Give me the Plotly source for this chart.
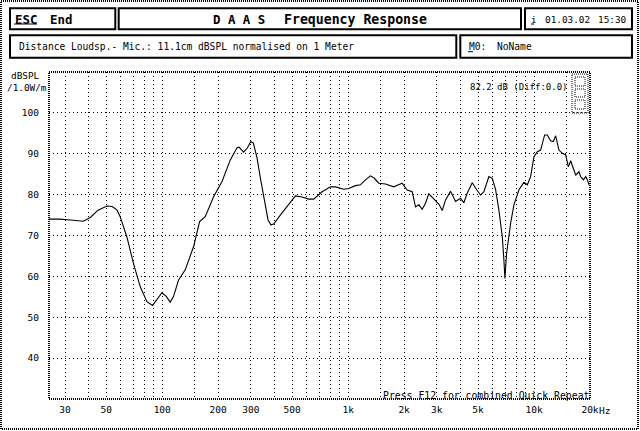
import math
import plotly.graph_objects as go

# ---------------- data ----------------
freq_hz = [24.6, 28.2, 32.0, 37.7, 41.0, 45.2, 50.4, 53.8, 57.2, 59.4,
           64.5, 70.0, 76.1, 82.7, 88.7, 93.6, 99.6, 105.1, 110.4, 115.1,
           122.4, 133.0, 147.5, 158.8, 170.4, 188.9, 209.7, 232.4, 252.6, 258.8,
           274.1, 286.9, 299.6, 309.1, 323.6, 337.1, 351.3, 370.9, 384.0, 397.5,
           431.9, 469.4, 520.3, 565.4, 613.5, 652.9, 724.4, 803.0, 854.5, 947,
           1007, 1095, 1165, 1239, 1319, 1385, 1461, 1588, 1761, 1866,
           1953, 2078, 2212, 2304, 2400, 2503, 2608, 2716, 2891, 3075,
           3208, 3342, 3556, 3783, 4024, 4194, 4374, 4653, 4909, 5157,
           5374, 5716, 5963, 6213, 6471, 6750, 6885, 6971, 7118, 7234,
           7482, 7795, 8294, 8823, 9204, 9587, 9989, 10420, 10850, 11400,
           11790, 12280, 12700, 13070, 13620, 14200, 14800, 15300, 15740, 16280,
           16750, 17450, 17820, 18430, 18960, 19360, 19750]
level_db = [74.0, 74.0, 73.8, 73.5, 74.4, 76.2, 77.2, 77.1, 76.2, 74.6,
            69.7, 63.2, 57.5, 53.8, 52.9, 54.3, 56.0, 55.1, 53.7, 55.1,
            59.1, 61.6, 67.3, 73.4, 74.6, 79.5, 83.2, 88.5, 91.5, 91.6,
            90.4, 91.4, 93.0, 92.6, 89.0, 84.1, 79.7, 73.8, 72.6, 72.8,
            75.0, 77.0, 79.7, 79.4, 78.9, 78.9, 80.7, 81.9, 81.9, 81.3,
            81.5, 82.2, 82.4, 83.6, 84.6, 84.0, 82.8, 82.6, 81.9, 82.4,
            82.8, 81.1, 80.7, 77.0, 77.5, 76.4, 77.9, 80.2, 79.0, 77.7,
            76.1, 78.7, 80.8, 78.3, 79.1, 78.0, 80.4, 82.9, 81.2, 79.9,
            80.7, 84.4, 84.0, 81.2, 76.2, 69.7, 64.0, 59.5, 65.6, 68.1,
            73.0, 77.5, 81.2, 83.0, 82.4, 84.4, 89.3, 90.5, 90.9, 94.6,
            94.6, 93.2, 93.0, 94.4, 90.9, 90.1, 89.7, 86.8, 88.3, 86.4,
            84.8, 85.6, 84.4, 83.6, 84.4, 83.6, 82.4]

x_tick_vals = [30, 50, 100, 200, 300, 500, 1000, 2000, 3000, 5000, 10000, 20000]
x_tick_text = ["30", "50", "100", "200", "300", "500", "1k", "2k", "3k", "5k", "10k", "20k"]
x_minor_grid = [40, 60, 70, 80, 90, 150, 400, 600, 700, 800, 900,
                1500, 4000, 6000, 7000, 8000, 9000, 15000]
y_tick_vals = [40, 50, 60, 70, 80, 90, 100]
x_range_hz = [24.6, 20000]
y_range_db = [30, 110]

# ---------------- layout helpers (pixel -> paper) ----------------
W, H = 640, 431
L, R, T, B = 49, 590, 72, 399


def px(x):
    return (x - L) / (R - L)


def py(y):
    return (B - y) / (B - T)


MONO = "DejaVu Sans Mono"

fig = go.Figure()
fig.add_trace(go.Scatter(x=freq_hz, y=level_db, mode="lines",
                         line=dict(color="black", width=1.1),
                         showlegend=False, hoverinfo="skip"))

fig.update_layout(
    width=W, height=H,
    margin=dict(l=L, r=W - R, t=T, b=H - B, pad=0),
    paper_bgcolor="white", plot_bgcolor="white",
    font=dict(family=MONO, size=10, color="black"),
    xaxis=dict(type="log", range=[math.log10(x_range_hz[0]), math.log10(x_range_hz[1])],
               tickmode="array", tickvals=x_tick_vals, ticktext=x_tick_text,
               showgrid=True, gridcolor="black", griddash="1px,3px", gridwidth=1,
               minor=dict(tickmode="array", tickvals=x_minor_grid, showgrid=True,
                          gridcolor="black", griddash="1px,3px", gridwidth=1, ticks=""),
               ticks="", showline=False, zeroline=False,
               tickfont=dict(family=MONO, size=9.5), ticklabelstandoff=3),
    yaxis=dict(range=y_range_db, tickmode="array", tickvals=y_tick_vals,
               showgrid=True, gridcolor="black", griddash="1px,3px", gridwidth=1,
               ticks="", showline=False, zeroline=False,
               tickfont=dict(family=MONO, size=9.5), ticklabelstandoff=9),
)

shapes = []
dith = dict(color="black", width=2, dash="1px,1px")
# outer frame
shapes.append(dict(type="rect", xref="paper", yref="paper",
                   x0=px(1), x1=px(638), y0=py(1), y1=py(429), line=dith))
# plot frame
shapes.append(dict(type="rect", xref="paper", yref="paper",
                   x0=px(L), x1=px(R), y0=py(T), y1=py(B), line=dith))
# header boxes
boxes = [(10, 8.3, 115.3, 29.3), (118.7, 8.3, 521, 29.3), (525, 8.3, 632, 29.3),
         (10, 35.3, 456.3, 57.7), (460.3, 35.3, 632, 57.7)]
for (x0, y0, x1, y1) in boxes:
    shapes.append(dict(type="rect", xref="paper", yref="paper",
                       x0=px(x0), x1=px(x1), y0=py(y0), y1=py(y1),
                       line=dict(color="black", width=2)))
# underlines
for (x0, x1, y) in [(14, 37, 24), (531, 534, 24), (468, 473, 51.7)]:
    shapes.append(dict(type="line", xref="paper", yref="paper",
                       x0=px(x0), x1=px(x1), y0=py(y), y1=py(y),
                       line=dict(color="black", width=1)))
# small dotted icon (top right)
icon = dict(color="black", width=1, dash="1px,1px")
shapes.append(dict(type="rect", xref="paper", yref="paper",
                   x0=px(572), x1=px(588), y0=py(74), y1=py(113), line=icon))
for (x0, y0, x1, y1) in [(575, 77, 585, 86), (575, 89, 585, 97), (575, 100, 585, 109)]:
    shapes.append(dict(type="rect", xref="paper", yref="paper",
                       x0=px(x0), x1=px(x1), y0=py(y0), y1=py(y1), line=icon))
fig.update_layout(shapes=shapes)


def ann(text, x, y, xanchor="left", size=9.6, bold=False, yanchor="middle"):
    t = f"<b>{text}</b>" if bold else text
    fig.add_annotation(text=t, xref="paper", yref="paper", x=px(x), y=py(y),
                       xanchor=xanchor, yanchor=yanchor, showarrow=False,
                       borderpad=0, font=dict(family=MONO, size=size, color="black"))


ann("ESC", 13.5, 19, size=12.4, bold=True)
ann("End", 49, 19, size=12.4, bold=True)
ann("D A A S", 212, 19.3, size=12.4, bold=True)
ann("Frequency Response", 283, 19.3, size=13.2, bold=True)
ann("i", 530, 19.3, size=9.4)
ann("01.03.02", 543.5, 19.3, size=9.4)
ann("15:30", 597, 19.3, size=9.4)
ann("Distance Loudsp.- Mic.: 11.1cm dBSPL normalised on 1 Meter", 18, 46.3, size=9.6)
ann("M0:", 467.5, 46.3, size=9.6)
ann("NoName", 496, 46.3, size=9.6)
ann("dBSPL", 25, 76, xanchor="center", size=9.4)
ann("/1.0W/m", 27, 88, xanchor="center", size=9.4)
ann("82.2 dB (Diff:0.0)", 468.5, 87, size=9.0)
ann("Press F12 for combined Quick Repeat", 590, 395, xanchor="right", size=9.8)
ann("Hz", 597.5, 410, size=9.5)

fig.write_html("out.html", config={"displayModeBar": False},
               post_script="document.body.style.margin='0';")
